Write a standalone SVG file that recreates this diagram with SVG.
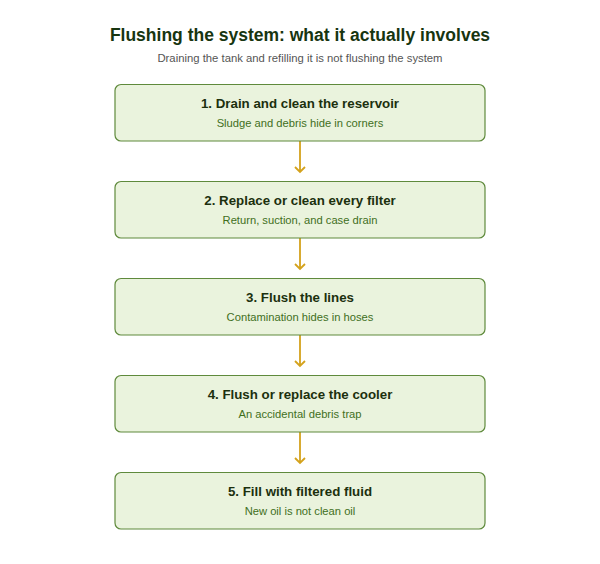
<svg xmlns="http://www.w3.org/2000/svg" width="600" height="564" viewBox="0 0 600 564">
<defs>
<style>
.box{fill:#eaf3dd;stroke:#5f8a3c;stroke-width:1.2}
.t{font-family:"Liberation Sans",Arial,sans-serif;font-size:13.3px;font-weight:bold;fill:#1c300e;text-anchor:middle}
.s{font-family:"Liberation Sans",Arial,sans-serif;font-size:11.2px;fill:#3f6f1c;text-anchor:middle}
.conn{stroke:#d4a21c;stroke-width:1.8;fill:none}
</style>
</defs>
<rect width="600" height="564" fill="#ffffff"/>
<text x="300" y="41" font-family="Liberation Sans,Arial,sans-serif" font-size="17.5" font-weight="bold" fill="#173510" text-anchor="middle">Flushing the system: what it actually involves</text>
<text x="300" y="62" font-family="Liberation Sans,Arial,sans-serif" font-size="11.3" fill="#555555" text-anchor="middle">Draining the tank and refilling it is not flushing the system</text>
<g id="connectors">
<path class="conn" d="M300 141V172M295 167L300 172L305 167"/>
<path class="conn" d="M300 238V269M295 264L300 269L305 264"/>
<path class="conn" d="M300 335V366M295 361L300 366L305 361"/>
<path class="conn" d="M300 432V463M295 458L300 463L305 458"/>
</g>
<g id="n1"><rect class="box" x="115" y="84.5" width="370" height="56.5" rx="6"/><text class="t" x="300" y="108">1. Drain and clean the reservoir</text><text class="s" x="300" y="127">Sludge and debris hide in corners</text></g>
<g id="n2"><rect class="box" x="115" y="181.5" width="370" height="56.5" rx="6"/><text class="t" x="300" y="205">2. Replace or clean every filter</text><text class="s" x="300" y="224">Return, suction, and case drain</text></g>
<g id="n3"><rect class="box" x="115" y="278.5" width="370" height="56.5" rx="6"/><text class="t" x="300" y="302">3. Flush the lines</text><text class="s" x="300" y="321">Contamination hides in hoses</text></g>
<g id="n4"><rect class="box" x="115" y="375.5" width="370" height="56.5" rx="6"/><text class="t" x="300" y="399">4. Flush or replace the cooler</text><text class="s" x="300" y="418">An accidental debris trap</text></g>
<g id="n5"><rect class="box" x="115" y="472.5" width="370" height="56.5" rx="6"/><text class="t" x="300" y="496">5. Fill with filtered fluid</text><text class="s" x="300" y="515">New oil is not clean oil</text></g>
</svg>
